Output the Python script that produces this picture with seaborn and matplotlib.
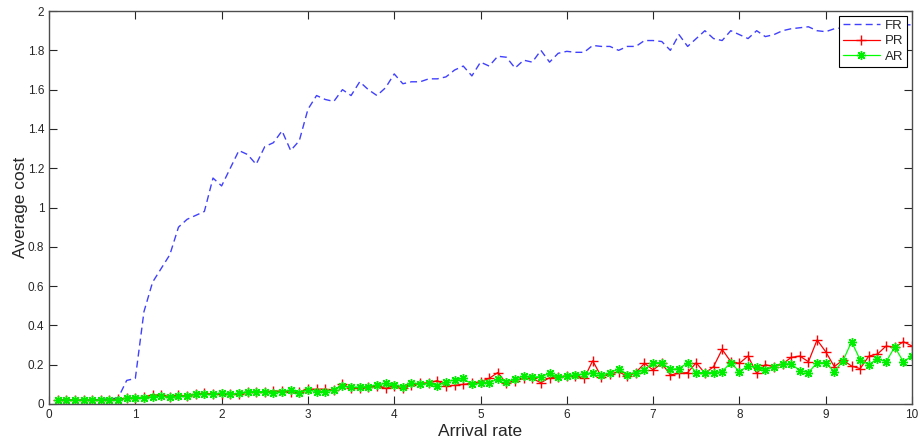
import numpy as np
import pandas as pd
import matplotlib
matplotlib.use('Agg')
import matplotlib.pyplot as plt
import seaborn as sns
from matplotlib.ticker import FormatStrFormatter

# arrival rate 0.1 .. 10.0
rate = [round(0.1 * i, 1) for i in range(1, 101)]

fr_cost = [
    0.02, 0.02, 0.02, 0.02, 0.02, 0.025, 0.025, 0.03, 0.12, 0.13,
    0.47, 0.62, 0.69, 0.76, 0.90, 0.94, 0.96, 0.98, 1.15, 1.11,
    1.20, 1.29, 1.27, 1.22, 1.31, 1.33, 1.39, 1.29, 1.34, 1.50,
    1.57, 1.55, 1.54, 1.60, 1.57, 1.64, 1.60, 1.57, 1.61, 1.68,
    1.63, 1.64, 1.64, 1.655, 1.655, 1.665, 1.70, 1.72, 1.67, 1.74,
    1.72, 1.77, 1.765, 1.71, 1.75, 1.74, 1.80, 1.74, 1.785, 1.795,
    1.79, 1.79, 1.825, 1.82, 1.82, 1.80, 1.82, 1.82, 1.85, 1.85,
    1.845, 1.80, 1.88, 1.82, 1.86, 1.90, 1.86, 1.85, 1.90, 1.88,
    1.86, 1.90, 1.87, 1.88, 1.90, 1.91, 1.915, 1.92, 1.90, 1.895,
    1.91, 1.915, 1.91, 1.92, 1.93, 1.92, 1.93, 1.92, 1.93, 1.93,
]

pr_cost = [
    0.02, 0.02, 0.02, 0.02, 0.02, 0.02, 0.02, 0.025, 0.03, 0.03,
    0.035, 0.046, 0.045, 0.035, 0.045, 0.04, 0.05, 0.055, 0.05, 0.05,
    0.05, 0.05, 0.06, 0.06, 0.062, 0.065, 0.065, 0.06, 0.06, 0.075,
    0.075, 0.075, 0.07, 0.10, 0.08, 0.083, 0.088, 0.092, 0.08, 0.093,
    0.08, 0.097, 0.105, 0.108, 0.119, 0.092, 0.095, 0.10, 0.105, 0.114,
    0.13, 0.16, 0.105, 0.119, 0.13, 0.13, 0.108, 0.134, 0.139, 0.142,
    0.142, 0.13, 0.22, 0.139, 0.151, 0.165, 0.14, 0.16, 0.207, 0.173,
    0.207, 0.148, 0.156, 0.16, 0.21, 0.156, 0.19, 0.278, 0.215, 0.207,
    0.244, 0.156, 0.20, 0.19, 0.204, 0.237, 0.244, 0.215, 0.326, 0.266,
    0.19, 0.224, 0.193, 0.18, 0.244, 0.254, 0.295, 0.288, 0.317, 0.295,
]

ar_cost = [
    0.02, 0.02, 0.02, 0.02, 0.02, 0.02, 0.02, 0.02, 0.029, 0.032,
    0.033, 0.037, 0.04, 0.034, 0.04, 0.04, 0.05, 0.05, 0.049, 0.057,
    0.05, 0.054, 0.063, 0.063, 0.063, 0.058, 0.063, 0.071, 0.058, 0.071,
    0.063, 0.063, 0.071, 0.092, 0.085, 0.085, 0.088, 0.097, 0.105, 0.097,
    0.088, 0.108, 0.10, 0.105, 0.092, 0.114, 0.122, 0.13, 0.10, 0.108,
    0.108, 0.127, 0.114, 0.125, 0.144, 0.136, 0.139, 0.156, 0.136, 0.144,
    0.148, 0.153, 0.16, 0.15, 0.156, 0.18, 0.15, 0.16, 0.173, 0.21,
    0.21, 0.176, 0.18, 0.21, 0.16, 0.16, 0.16, 0.165, 0.21, 0.165,
    0.193, 0.187, 0.173, 0.19, 0.204, 0.204, 0.17, 0.16, 0.21, 0.21,
    0.165, 0.22, 0.317, 0.224, 0.20, 0.23, 0.215, 0.29, 0.215, 0.244,
]

sns.set_style('white')
plt.rcParams['font.family'] = ['Liberation Sans', 'DejaVu Sans']

fig = plt.figure(figsize=(9.2, 4.46), dpi=100)
ax = fig.add_axes([0.0533, 0.0942, 0.938, 0.881])

sns.lineplot(x=rate, y=fr_cost, ax=ax, color='#4040ff', linewidth=1.0,
             label='FR').lines[-1].set_dashes((5, 3))
sns.lineplot(x=rate, y=pr_cost, ax=ax, color='#ff0000', linewidth=0.9,
             linestyle='-', marker='+', markersize=7, markeredgewidth=1.0,
             markeredgecolor='#ff0000', label='PR')
sns.lineplot(x=rate, y=ar_cost, ax=ax, color='#00ff00', linewidth=0.9,
             linestyle='-', marker=(8, 2, 0), markersize=6.5,
             markeredgecolor='#00ee00', markeredgewidth=1.0, label='AR')

ax.set_xlim(0, 10)
ax.set_ylim(0, 2)
ax.set_xticks(np.arange(0, 11, 1))
ax.set_yticks(np.arange(0, 2.01, 0.2))
ax.yaxis.set_major_formatter(FormatStrFormatter('%g'))
ax.xaxis.set_major_formatter(FormatStrFormatter('%g'))
ax.tick_params(direction='in', length=5.5, width=0.8, colors='0.15',
               labelsize=8.5, top=True, right=True, bottom=True, left=True)
for s in ax.spines.values():
    s.set_visible(True)
    s.set_color('0.3')
    s.set_linewidth(1.0)

ax.set_xlabel('Arrival rate', fontsize=12.5, labelpad=2)
ax.set_ylabel('Average cost', fontsize=12.5)
ax.yaxis.set_label_coords(-0.024, 0.5)

leg = ax.legend(loc='upper right', fontsize=9.5, frameon=True, fancybox=False,
                edgecolor='black', framealpha=1, borderpad=0.3,
                handlelength=2.8, labelspacing=0.25, borderaxespad=0.35,
                handletextpad=0.4)
leg.get_frame().set_linewidth(0.8)

fig.savefig('out.png', dpi=100, facecolor='white')
